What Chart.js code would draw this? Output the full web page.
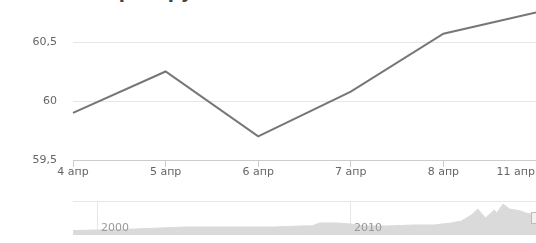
<!DOCTYPE html>
<html>
<head>
<meta charset="utf-8">
<script src="https://cdn.jsdelivr.net/npm/chart.js@4.4.0/dist/chart.umd.min.js"></script>
<style>
  body { margin: 0; background: #fff; overflow: hidden; }
  #wrap { position: relative; width: 536px; height: 243px; overflow: hidden; font-family: "DejaVu Sans", sans-serif; }
  #title { position: absolute; left: 95px; top: -17px; font-size: 18px; line-height: 18px; font-weight: bold; color: #444; white-space: nowrap; }
  #main { position: absolute; left: 0; top: 0; }
  #nav { position: absolute; left: 0; top: 190px; }
</style>
</head>
<body>
<div id="wrap">
  <div id="title">Евро в рублях</div>
  <canvas id="main" width="536" height="185"></canvas>
  <canvas id="nav" width="536" height="53"></canvas>
</div>
<script>
// main series
const days = ['4 апр', '5 апр', '6 апр', '7 апр', '8 апр', '11 апр'];
const rates = [59.90, 60.25, 59.70, 60.08, 60.57, 60.75];
const yTicks = [59.5, 60, 60.5];

// navigator (whole history)
const navYears = [1999.05, 1999.5, 2000.0, 2000.8, 2001.5, 2002.5, 2003.5, 2005.0, 2007.0, 2008.0, 2008.5,
  2008.8, 2009.5, 2010.0, 2010.5, 2011.5, 2012.5, 2013.3, 2014.0, 2014.4, 2014.8, 2015.05, 2015.35,
  2015.7, 2015.8, 2016.05, 2016.3, 2016.75, 2016.95, 2017.15, 2017.35];
const navValues = [25.5, 26.0, 26.8, 27.5, 29.1, 31.5, 33.8, 33.8, 33.8, 36.2, 36.5,
  43.2, 43.2, 40.9, 36.2, 36.2, 38.5, 38.5, 43.2, 47.9, 62.1, 76.2, 55.0,
  73.8, 66.8, 87.9, 76.2, 71.5, 66.8, 64.4, 64.4];
const navLabels = [2000, 2010];

const labelFont = '11px "DejaVu Sans"';

// x labels drawn by hand so the last one can be pushed inside the canvas
const dayLabels = {
  id: 'dayLabels',
  afterDraw(chart) {
    const s = chart.scales.x, ctx = chart.ctx;
    ctx.save();
    ctx.font = labelFont;
    ctx.fillStyle = '#666';
    ctx.textBaseline = 'middle';
    ctx.textAlign = 'left';
    days.forEach((d, i) => {
      const w = ctx.measureText(d).width;
      const x = Math.min(s.getPixelForTick(i) - w / 2, chart.width - w - 1);
      ctx.fillText(d, x, s.top + 12);
    });
    ctx.restore();
  }
};

new Chart(document.getElementById('main'), {
  type: 'line',
  data: {
    labels: days,
    datasets: [{
      data: rates,
      borderColor: '#767676',
      borderWidth: 2,
      pointRadius: 0,
      tension: 0,
      fill: false
    }]
  },
  options: {
    responsive: false,
    animation: false,
    events: [],
    layout: { padding: 0 },
    plugins: { legend: { display: false }, tooltip: { enabled: false } },
    scales: {
      x: {
        ticks: { display: false },
        grid: { drawOnChartArea: false, drawTicks: true, tickLength: 7, color: '#cccccc' },
        border: { color: '#cccccc' },
        afterFit: s => { s.height = 25; s.paddingLeft = 0; s.paddingRight = 0; }
      },
      y: {
        min: 59.5,
        max: 60.856,
        afterBuildTicks: s => { s.ticks = yTicks.map(v => ({ value: v })); },
        ticks: {
          padding: 16,
          color: '#666',
          font: { family: 'DejaVu Sans', size: 11 },
          callback: v => String(v).replace('.', ',')
        },
        grid: { color: '#e6e6e6', drawTicks: false },
        border: { display: false },
        afterFit: s => { s.width = 73; s.paddingTop = 0; s.paddingBottom = 0; }
      }
    }
  },
  plugins: [dayLabels]
});

// year labels inside the navigator + right handle
const navExtras = {
  id: 'navExtras',
  afterDraw(chart) {
    const s = chart.scales.x, ctx = chart.ctx;
    ctx.save();
    ctx.font = labelFont;
    ctx.fillStyle = '#999';
    ctx.textBaseline = 'alphabetic';
    navLabels.forEach(y => {
      ctx.fillText(String(y), s.getPixelForValue(y) + 4, 41);
    });
    ctx.fillStyle = '#f2f2f2';
    ctx.strokeStyle = '#bbb';
    ctx.lineWidth = 1;
    ctx.fillRect(531.5, 22.5, 7, 11);
    ctx.strokeRect(531.5, 22.5, 7, 11);
    ctx.restore();
  }
};

new Chart(document.getElementById('nav'), {
  type: 'line',
  data: {
    datasets: [{
      data: navYears.map((x, i) => ({ x: x, y: navValues[i] })),
      fill: 'start',
      backgroundColor: '#dadada',
      borderColor: '#dadada',
      borderWidth: 1,
      pointRadius: 0,
      tension: 0
    }]
  },
  options: {
    responsive: false,
    animation: false,
    events: [],
    layout: { padding: { left: 73, top: 11, bottom: 8, right: 0 } },
    plugins: { legend: { display: false }, tooltip: { enabled: false } },
    scales: {
      x: {
        type: 'linear',
        position: 'top',
        min: 1999.05,
        max: 2017.35,
        afterBuildTicks: s => { s.ticks = navLabels.map(v => ({ value: v })); },
        ticks: { display: false },
        grid: { color: '#e6e6e6', drawTicks: false },
        border: { color: '#e6e6e6' },
        afterFit: s => { s.height = 0; s.paddingLeft = 0; s.paddingRight = 0; }
      },
      y: { display: false, min: 15, max: 95 }
    }
  },
  plugins: [navExtras]
});
</script>
</body>
</html>
